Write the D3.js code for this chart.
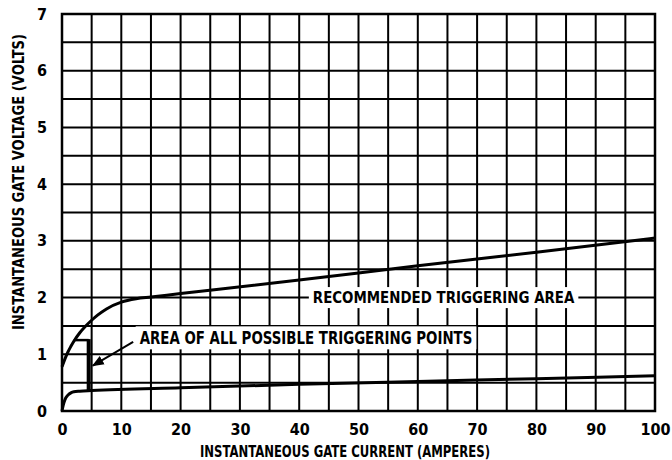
<!DOCTYPE html>
<html>
<head>
<meta charset="utf-8">
<script src="https://cdn.jsdelivr.net/npm/d3@7"></script>
<style>
  body { margin: 0; background: #fff; }
  svg text { font-family: "Liberation Sans Narrow", "DejaVu Sans Condensed", "Liberation Sans", sans-serif; font-weight: bold; fill: #000; }
</style>
</head>
<body>
<div id="chart"></div>
<script>
// values
var xTicks = [0, 10, 20, 30, 40, 50, 60, 70, 80, 90, 100];
var yTicks = [0, 1, 2, 3, 4, 5, 6, 7];
var xGrid = d3.range(0, 101, 5);
var yGrid = d3.range(0, 7.01, 0.5);

// upper boundary (recommended triggering area)
var upperAmps  = [0, 0.5, 1, 1.5, 2, 3, 4, 5, 6, 7.5, 10, 12.5, 15, 20, 40, 60, 80, 100];
var upperVolts = [0.78, 0.92, 1.04, 1.14, 1.23, 1.38, 1.5, 1.6, 1.69, 1.8, 1.92, 1.98, 2.01, 2.07, 2.31, 2.56, 2.8, 3.05];

// lower boundary
var lowerAmps  = [0, 0.2, 0.5, 1, 1.5, 2, 3, 5, 20, 40, 60, 80, 100];
var lowerVolts = [0, 0.1, 0.2, 0.28, 0.32, 0.34, 0.35, 0.36, 0.41, 0.47, 0.52, 0.57, 0.62];

// area of all possible triggering points (box edge)
var boxAmps  = [2.0, 4.5, 4.5];
var boxVolts = [1.25, 1.25, 0.36];

// arrow from label to box
var arrowAmps  = [12, 5.2];
var arrowVolts = [1.22, 0.8];

var labelPossible = { text: "AREA OF ALL POSSIBLE TRIGGERING POINTS", x0: 13.1, x1: 69.2, v: 1.29 };
var labelRecommended = { text: "RECOMMENDED TRIGGERING AREA", x0: 42.3, x1: 86.4, v: 2.0 };

var W = 672, H = 460;
var margin = { top: 14, right: 17, bottom: 49, left: 62 };

var svg = d3.select("#chart").append("svg")
    .attr("width", W)
    .attr("height", H);

var x = d3.scaleLinear().domain([0, 100]).range([margin.left, W - margin.right]);
var y = d3.scaleLinear().domain([0, 7]).range([H - margin.bottom, margin.top]);

// grid
svg.append("g").selectAll("line")
    .data(xGrid)
    .enter().append("line")
    .attr("x1", d => x(d)).attr("x2", d => x(d))
    .attr("y1", y(0)).attr("y2", y(7))
    .attr("stroke", "#000").attr("stroke-width", 2);

svg.append("g").selectAll("line")
    .data(yGrid)
    .enter().append("line")
    .attr("x1", x(0)).attr("x2", x(100))
    .attr("y1", d => y(d)).attr("y2", d => y(d))
    .attr("stroke", "#000").attr("stroke-width", 2);

// frame
svg.append("rect")
    .attr("x", x(0)).attr("y", y(7))
    .attr("width", x(100) - x(0)).attr("height", y(0) - y(7))
    .attr("fill", "none").attr("stroke", "#000").attr("stroke-width", 2.5);

// axes (labels only)
var xAxis = svg.append("g")
    .attr("transform", `translate(0,${y(0)})`)
    .call(d3.axisBottom(x).tickValues(xTicks).tickSize(0).tickPadding(13));
xAxis.select(".domain").remove();
xAxis.selectAll("text").style("font-size", "16px");

var yAxis = svg.append("g")
    .attr("transform", `translate(${x(0)},0)`)
    .call(d3.axisLeft(y).tickValues(yTicks).tickFormat(d3.format("d")).tickSize(0).tickPadding(15));
yAxis.select(".domain").remove();
yAxis.selectAll("text").style("font-size", "16px");

// axis titles
svg.append("text")
    .attr("x", 345).attr("y", 457)
    .attr("text-anchor", "middle")
    .attr("textLength", 290).attr("lengthAdjust", "spacingAndGlyphs")
    .style("font-size", "15px")
    .text("INSTANTANEOUS GATE CURRENT (AMPERES)");

svg.append("text")
    .attr("transform", "translate(24,182) rotate(-90)")
    .attr("text-anchor", "middle")
    .attr("textLength", 296).attr("lengthAdjust", "spacingAndGlyphs")
    .style("font-size", "15px")
    .text("INSTANTANEOUS GATE VOLTAGE (VOLTS)");

// curves
var line = d3.line().x(d => x(d[0])).y(d => y(d[1])).curve(d3.curveMonotoneX);

svg.append("path")
    .datum(d3.zip(upperAmps, upperVolts))
    .attr("d", line)
    .attr("fill", "none").attr("stroke", "#000").attr("stroke-width", 3);

svg.append("path")
    .datum(d3.zip(lowerAmps, lowerVolts))
    .attr("d", line)
    .attr("fill", "none").attr("stroke", "#000").attr("stroke-width", 3);

var boxPts = d3.zip(boxAmps, boxVolts);
svg.append("line")
    .attr("x1", x(boxPts[0][0])).attr("y1", y(boxPts[0][1]))
    .attr("x2", x(boxPts[1][0])).attr("y2", y(boxPts[1][1]))
    .attr("stroke", "#000").attr("stroke-width", 2.5);
svg.append("line")
    .attr("x1", x(boxPts[1][0])).attr("y1", y(boxPts[1][1]) - 1)
    .attr("x2", x(boxPts[2][0])).attr("y2", y(boxPts[2][1]))
    .attr("stroke", "#000").attr("stroke-width", 4);

// labels with white boxes
function label(l, size) {
    var x0 = x(l.x0), x1 = x(l.x1), cy = y(l.v);
    var h = size + 6;
    svg.append("rect")
        .attr("x", x0 - 4).attr("y", cy - h / 2)
        .attr("width", x1 - x0 + 8).attr("height", h)
        .attr("fill", "#fff");
    svg.append("text")
        .attr("x", x0).attr("y", cy)
        .attr("dy", "0.36em")
        .attr("textLength", x1 - x0).attr("lengthAdjust", "spacingAndGlyphs")
        .style("font-size", size + "px")
        .text(l.text);
}
label(labelPossible, 17);
label(labelRecommended, 15);

// arrow
svg.append("defs").append("marker")
    .attr("id", "head")
    .attr("viewBox", "0 0 10 10")
    .attr("refX", 9).attr("refY", 5)
    .attr("markerWidth", 6).attr("markerHeight", 6)
    .attr("orient", "auto")
    .append("path").attr("d", "M0,1L10,5L0,9Z").attr("fill", "#000");

svg.append("line")
    .attr("x1", x(arrowAmps[0])).attr("y1", y(arrowVolts[0]))
    .attr("x2", x(arrowAmps[1])).attr("y2", y(arrowVolts[1]))
    .attr("stroke", "#000").attr("stroke-width", 2)
    .attr("marker-end", "url(#head)");
</script>
</body>
</html>
